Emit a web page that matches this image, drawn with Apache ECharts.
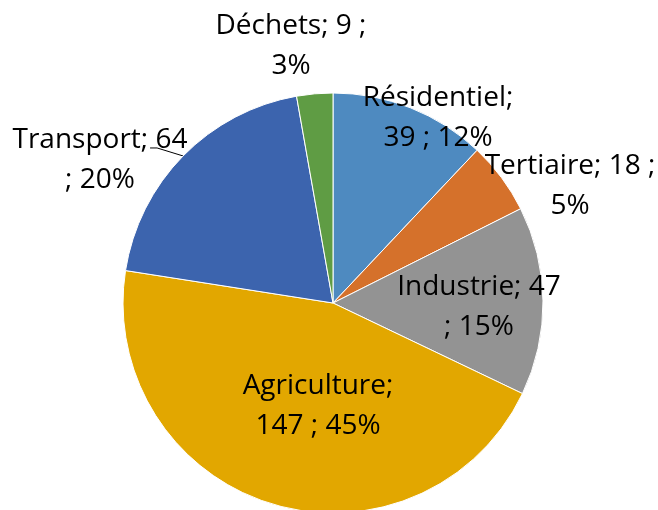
<!DOCTYPE html>
<html>
<head>
<meta charset="utf-8">
<script src="https://cdn.jsdelivr.net/npm/echarts@6/dist/echarts.min.js"></script>
<style>
  html, body { margin: 0; padding: 0; background: #fff; }
  #chart { width: 658px; height: 510px; }
</style>
</head>
<body>
<div id="chart"></div>
<script>
// données (émissions par secteur)
const sectors = ['Résidentiel', 'Tertiaire', 'Industrie', 'Agriculture', 'Transport', 'Déchets'];
const values = [39, 18, 47, 147, 64, 9];
const percents = [12, 5, 15, 45, 20, 3];
const colors = ['#4e8ac0', '#d5712b', '#939393', '#e2a700', '#3c64ae', '#5f9c44'];

// où couper le texte de l'étiquette (nombre de morceaux sur la 1re ligne)
const breakAt = [1, 3, 2, 1, 2, 3];
// centre des étiquettes
const labelPos = [[438, 118], [570, 186], [479, 307], [318, 406], [100, 160], [291, 46]];

const chart = echarts.init(document.getElementById('chart'));

const option = {
  animation: false,
  series: [{
    type: 'pie',
    center: [333, 303],
    radius: 210,
    startAngle: 90,
    clockwise: true,
    avoidLabelOverlap: false,
    itemStyle: { borderColor: '#fff', borderWidth: 1 },
    label: {
      show: true,
      position: 'inside',
      color: '#000',
      fontFamily: 'Open Sans',
      fontSize: 28,
      lineHeight: 40,
      overflow: 'none',
      formatter: (p) => {
        const i = p.dataIndex;
        const parts = [sectors[i] + ';', String(values[i]), ';', percents[i] + '%'];
        return parts.slice(0, breakAt[i]).join(' ') + '\n' + parts.slice(breakAt[i]).join(' ');
      }
    },
    labelLine: { show: false },
    labelLayout: (params) => {
      const i = params.dataIndex;
      const out = { x: labelPos[i][0], y: labelPos[i][1], align: 'center', verticalAlign: 'middle' };
      if (sectors[i] === 'Transport' && params.labelLinePoints) {
        const s = params.labelLinePoints[0];
        out.labelLinePoints = [s, [s[0] - 26, s[1] - 8], [s[0] - 33, s[1] - 8]];
      }
      return out;
    },
    data: sectors.map((name, i) => {
      const item = { name, value: values[i], itemStyle: { color: colors[i] } };
      if (name === 'Transport') {
        item.label = { position: 'outside' };
        item.labelLine = { show: true, length: 10, length2: 10, lineStyle: { color: '#000', width: 1 } };
      }
      return item;
    })
  }]
};

chart.setOption(option);
</script>
</body>
</html>
